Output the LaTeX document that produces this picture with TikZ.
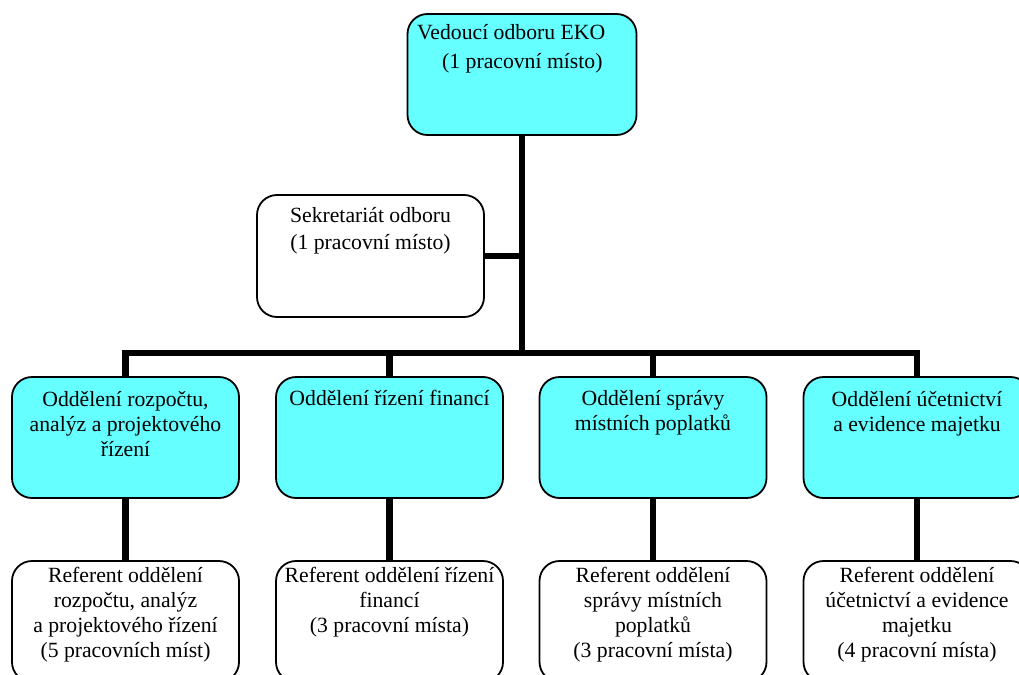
\documentclass[tikz,border=0pt]{standalone}
\usepackage{fontspec}
\setmainfont{Liberation Serif}
\definecolor{boxcyan}{HTML}{66FFFF}
\begin{document}
\begin{tikzpicture}[x=1pt,y=-1pt,
  box/.style={draw=black, line width=1.8pt, rounded corners=20pt, minimum width=227pt, minimum height=121pt, inner sep=0pt},
  cyanbox/.style={box, fill=boxcyan},
  whitebox/.style={box, fill=white},
  txt/.style={font=\fontsize{21.7pt}{25pt}\selectfont, align=center, inner sep=0pt, anchor=base, text=black},
  conn/.style={line width=6.5pt, draw=black}]
\useasboundingbox (0,0) rectangle (1019,674);
\clip (0,0) rectangle (1019,674);
% boxes
\node[cyanbox, minimum width=229pt] (top) at (522,74.5) {};
\node[whitebox, minimum height=122pt] (sec) at (370.5,256) {};
\node[cyanbox] (c1) at (125.5,437.5) {};
\node[cyanbox] (c2) at (389.5,437.5) {};
\node[cyanbox] (c3) at (653,437.5) {};
\node[cyanbox] (c4) at (917,437.5) {};
\node[whitebox] (b1) at (125.5,621.5) {};
\node[whitebox] (b2) at (389.5,621.5) {};
\node[whitebox] (b3) at (653,621.5) {};
\node[whitebox] (b4) at (917,621.5) {};
% connectors
\coordinate (bus) at (top.south |- 0,353);
\draw[conn] (top.south) -- (bus);
\draw[conn] (sec.east) -- (sec.east -| top.south);
\draw[conn] (c1.north) -- (c1.north |- bus) -- (c4.north |- bus) -- (c4.north);
\draw[conn] (c2.north |- bus) -- (c2.north);
\draw[conn] (c3.north |- bus) -- (c3.north);
\draw[conn] (c1.south) -- (b1.north);
\draw[conn] (c2.south) -- (b2.north);
\draw[conn] (c3.south) -- (b3.north);
\draw[conn] (c4.south) -- (b4.north);
% texts (anchor = baseline of the last line)
\node[txt, anchor=base west, align=left] (ttop) at (417,69) {Vedoucí odboru EKO\\[4pt]\hspace*{25pt}(1 pracovní místo)};
\node[txt] (tsec) at (370.5,249) {Sekretariát odboru\\[2pt](1 pracovní místo)};
\node[txt] (tc1) at (125.5,456) {Oddělení rozpočtu,\\analýz a projektového\\řízení};
\node[txt] (tc2) at (389.5,405) {Oddělení řízení financí};
\node[txt] (tc3) at (653,430) {Oddělení správy\\místních poplatků};
\node[txt] (tc4) at (917,431) {Oddělení účetnictví\\a evidence majetku};
\node[txt] (tb1) at (125.5,657) {Referent oddělení\\rozpočtu, analýz\\a projektového řízení\\(5 pracovních míst)};
\node[txt] (tb2) at (389.5,632) {Referent oddělení řízení\\financí\\(3 pracovní místa)};
\node[txt] (tb3) at (653,657) {Referent oddělení\\správy místních\\poplatků\\(3 pracovní místa)};
\node[txt] (tb4) at (917,657) {Referent oddělení\\účetnictví a evidence\\majetku\\(4 pracovní místa)};
\end{tikzpicture}
\end{document}
